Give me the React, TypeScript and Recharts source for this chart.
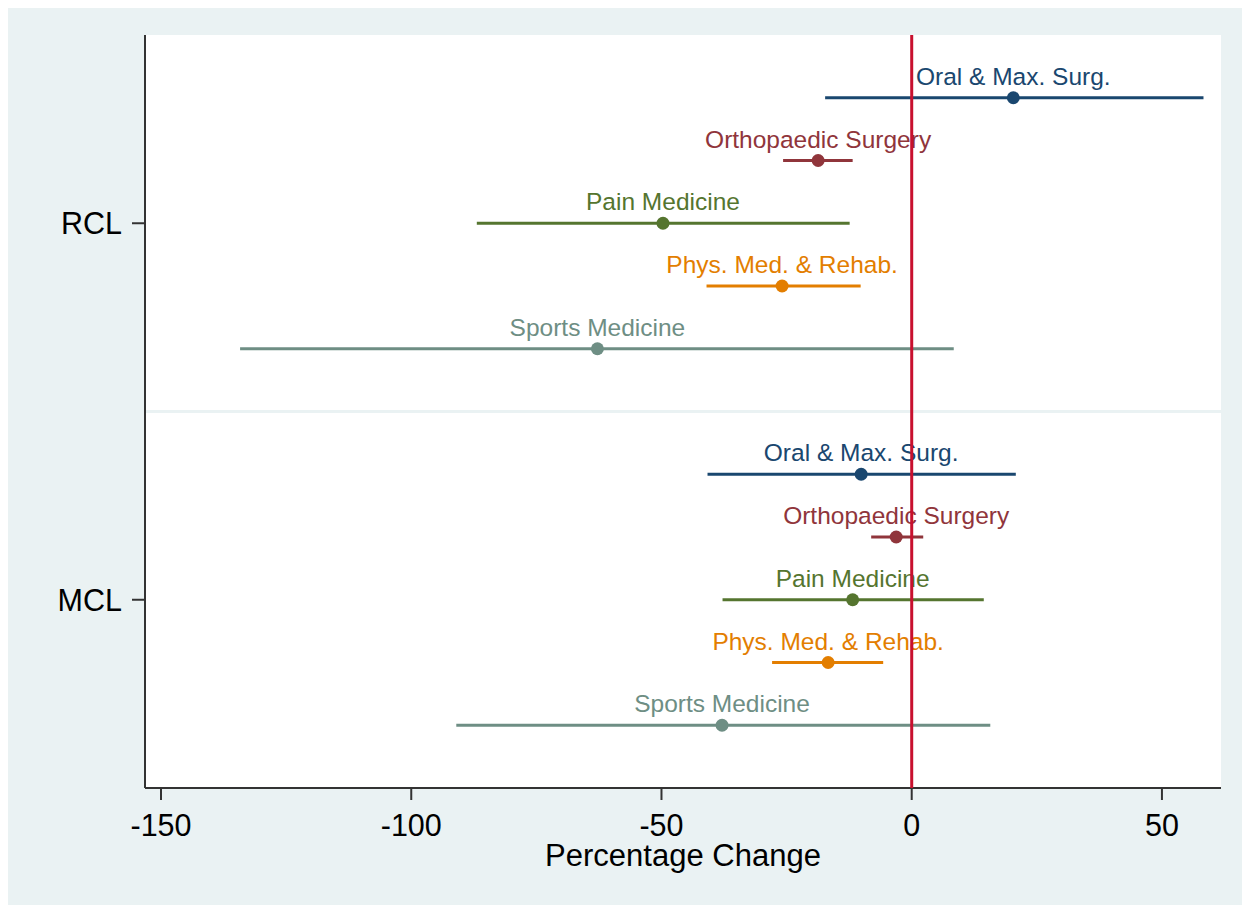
import React from 'react';
import {
  ComposedChart,
  Scatter,
  ErrorBar,
  XAxis,
  YAxis,
  CartesianGrid,
  ReferenceLine,
  Label,
} from 'recharts';

// specialties, top to bottom inside each ligament block
const specialties = [
  'Oral & Max. Surg.',
  'Orthopaedic Surgery',
  'Pain Medicine',
  'Phys. Med. & Rehab.',
  'Sports Medicine',
];
const colors = ['#1a476f', '#90353b', '#55752f', '#e37e00', '#6e8e84'];

// RCL block
const rclEst = [20.3, -18.7, -49.7, -25.9, -62.8];
const rclLow = [-17.3, -25.7, -86.9, -41, -134.2];
const rclHigh = [58.3, -11.8, -12.4, -10.2, 8.4];

// MCL block
const mclEst = [-10.1, -3.1, -11.8, -16.7, -37.9];
const mclLow = [-40.8, -8.1, -37.8, -27.9, -91];
const mclHigh = [20.8, 2.3, 14.4, -5.7, 15.7];

const groupLabels = ['RCL', 'MCL'];
const groupSlots = [2, 8];
const xTicks = [-150, -100, -50, 0, 50];

const FONT = '"Liberation Sans", Arial, sans-serif';
const BG = '#eaf2f3';

const seriesData = specialties.map((name, i) => [
  {
    x: rclEst[i],
    y: i,
    err: [rclEst[i] - rclLow[i], rclHigh[i] - rclEst[i]],
    name,
  },
  {
    x: mclEst[i],
    y: 6 + i,
    err: [mclEst[i] - mclLow[i], mclHigh[i] - mclEst[i]],
    name,
  },
]);

const makeShape = (color: string) => (props: any) => {
  const { cx, cy, payload } = props;
  return (
    <g>
      <circle cx={cx} cy={cy} r={6.5} fill={color} />
      <text
        x={cx}
        y={cy - 13}
        textAnchor="middle"
        fontSize={24.5}
        fontFamily={FONT}
        fill={color}
      >
        {payload.name}
      </text>
    </g>
  );
};

const XTick = (props: any) => {
  const { x, y, payload } = props;
  return (
    <text x={x} y={y} dy={32} textAnchor="middle" fontSize={30.5} fontFamily={FONT} fill="#000">
      {payload.value}
    </text>
  );
};

const YTick = (props: any) => {
  const { x, y, payload } = props;
  const idx = groupSlots.indexOf(payload.value);
  return (
    <text x={x} y={y} dy={11} textAnchor="end" fontSize={30.5} fontFamily={FONT} fill="#000">
      {groupLabels[idx]}
    </text>
  );
};

export default function App() {
  return (
    <div style={{ margin: '-6px 0 0 -1px', width: 1243, height: 903, background: BG }}>
      <ComposedChart
        width={1243}
        height={903}
        margin={{ top: 33, right: 29, bottom: 0, left: 0 }}
      >
        <CartesianGrid fill="#ffffff" horizontal={false} vertical={false} />
        <XAxis
          type="number"
          dataKey="x"
          domain={[-153.2, 61.8]}
          ticks={xTicks}
          allowDataOverflow
          height={117}
          tickSize={12}
          tickMargin={4}
          stroke="#333"
          strokeWidth={2}
          tick={<XTick />}
        >
          <Label
            content={(p: any) => {
              const vb = p.viewBox;
              return (
                <text
                  x={vb.x + vb.width / 2}
                  y={vb.y + 78}
                  textAnchor="middle"
                  fontSize={31}
                  fontFamily={FONT}
                  fill="#000"
                >
                  Percentage Change
                </text>
              );
            }}
          />
        </XAxis>
        <YAxis
          type="number"
          dataKey="y"
          domain={[-1, 11]}
          reversed
          ticks={groupSlots}
          allowDataOverflow
          width={138}
          tickSize={13}
          tickMargin={10}
          stroke="#333"
          strokeWidth={2}
          tick={<YTick />}
        />
        <ReferenceLine y={5} stroke={BG} strokeWidth={3} />
        {seriesData.map((d, i) => (
          <Scatter
            key={specialties[i]}
            data={d}
            fill={colors[i]}
            shape={makeShape(colors[i])}
            isAnimationActive={false}
          >
            <ErrorBar
              dataKey="err"
              direction="x"
              width={0}
              stroke={colors[i]}
              strokeWidth={3}
              isAnimationActive={false}
            />
          </Scatter>
        ))}
        <ReferenceLine x={0} stroke="#c8102e" strokeWidth={3} zIndex={1000} />
      </ComposedChart>
    </div>
  );
}
